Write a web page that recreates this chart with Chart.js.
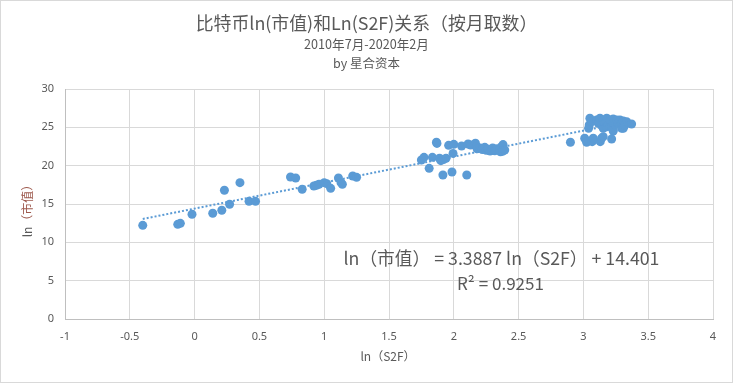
<!DOCTYPE html>
<html><head><meta charset="utf-8">
<script src="https://cdn.jsdelivr.net/npm/chart.js@4"></script>
<style>html,body{margin:0;padding:0;background:#fff;overflow:hidden}</style>
</head><body>
<canvas id="c" width="733" height="383" style="display:block;width:733px;height:383px"></canvas>
<script>
const TITLE = '比特币ln(市值)和Ln(S2F)关系（按月取数）';
const SUBTITLE1 = '2010年7月-2020年2月';
const SUBTITLE2 = 'by 星合资本';
const X_TITLE = 'ln（S2F）';
const Y_TITLE_A = 'ln';
const Y_TITLE_B = '（市值）';
const EQUATION = 'ln（市值） = 3.3887 ln（S2F） + 14.401';
const R2_TEXT = 'R² = 0.9251';
const xTicks = [-1, -0.5, 0, 0.5, 1, 1.5, 2, 2.5, 3, 3.5, 4];
const yTicks = [0, 5, 10, 15, 20, 25, 30];
const SLOPE = 3.3887, INTERCEPT = 14.401;

const lnS2F = [
  -0.40,-0.13,-0.11,-0.02,0.14,0.21,0.23,0.27,0.35,0.42,0.47,0.74,0.78,0.83,0.92,0.94,0.96,1.00,1.02,1.05,1.11,1.13,1.14,1.22,1.25,
  1.75,1.77,1.81,1.835,1.866,1.87,1.89,1.90,1.916,1.92,1.94,1.96,1.986,1.994,2.00,2.06,2.10,2.11,2.13,2.167,2.175,2.18,2.20,2.213,2.22,2.239,2.25,2.264,2.28,2.29,2.30,2.316,2.32,2.334,2.355,2.36,2.368,2.376,2.38,2.393,
  2.90,3.01,3.025,3.04,3.045,3.05,3.063,3.068,3.076,3.102,3.115,3.128,3.13,3.14,3.141,3.153,3.153,3.153,3.166,3.18,3.18,3.192,3.205,3.218,3.218,3.23,3.23,3.23,3.243,3.257,3.269,3.282,3.295,3.295,3.308,3.308,3.321,3.334,3.372
];
const lnCap = [
  12.22,12.35,12.48,13.66,13.79,14.18,16.79,14.96,17.78,15.35,15.35,18.52,18.39,16.92,17.35,17.44,17.57,17.78,17.65,17.04,18.39,17.78,17.57,18.65,18.48,
  20.74,21.09,19.65,21.09,23.05,22.90,20.96,20.65,18.78,20.80,20.96,22.65,19.17,21.60,22.78,22.56,18.78,22.83,22.70,22.92,22.48,22.20,22.30,22.26,22.10,22.39,22.00,22.13,21.90,22.04,22.30,21.95,22.10,22.22,22.04,21.80,22.48,21.87,22.75,22.04,
  23.05,23.57,23.05,24.87,25.30,26.18,25.74,23.13,23.57,25.96,25.52,26.18,23.13,23.57,25.30,23.78,25.96,24.87,25.52,26.18,25.08,25.30,25.96,23.48,25.08,24.52,26.09,24.65,25.39,25.96,25.52,25.96,24.87,25.52,25.83,24.87,25.30,25.74,25.43
];

const TEXT = '#595959';
const BLUE = '#5B9BD5';
const CJK = '"Noto Sans CJK SC", "Noto Sans", sans-serif';

const points = lnS2F.map((x, i) => ({x: x, y: lnCap[i]}));
const xMin = Math.min(...lnS2F), xMax = Math.max(...lnS2F);
const trend = [xMin, xMax].map(x => ({x: x, y: SLOPE * x + INTERCEPT}));

function fitSize(ctx, text, family, target) {
  ctx.font = '20px ' + family;
  return 20 * target / ctx.measureText(text).width;
}

const decor = {
  id: 'decor',
  beforeDraw(chart) {
    const ctx = chart.ctx;
    ctx.save();
    ctx.fillStyle = '#fff';
    ctx.fillRect(0, 0, chart.width, chart.height);
    ctx.restore();
  },
  afterDraw(chart) {
    const ctx = chart.ctx;
    ctx.save();
    ctx.fillStyle = TEXT;
    ctx.textAlign = 'center';
    ctx.textBaseline = 'middle';
    let s = fitSize(ctx, TITLE, CJK, 342);
    ctx.font = s + 'px ' + CJK;
    ctx.fillText(TITLE, 366.5, 23);
    s = fitSize(ctx, SUBTITLE1, CJK, 125);
    ctx.font = s + 'px ' + CJK;
    ctx.fillText(SUBTITLE1, 366.5, 44.5);
    s = fitSize(ctx, SUBTITLE2, CJK, 67);
    ctx.font = s + 'px ' + CJK;
    ctx.fillText(SUBTITLE2, 366.5, 63);

    // axis titles
    ctx.font = '12px ' + CJK;
    ctx.fillText(X_TITLE, 388, 356);
    ctx.save();
    ctx.translate(27, 208);
    ctx.rotate(-Math.PI / 2);
    const wa = ctx.measureText(Y_TITLE_A).width;
    const wb = ctx.measureText(Y_TITLE_B).width;
    let x0 = -(wa + wb) / 2;
    ctx.textAlign = 'left';
    ctx.fillStyle = TEXT;
    ctx.fillText(Y_TITLE_A, x0, 0);
    ctx.fillStyle = '#9E5A4E';
    ctx.fillText(Y_TITLE_B, x0 + wa, 0);
    ctx.restore();

    // equation
    ctx.fillStyle = TEXT;
    s = fitSize(ctx, EQUATION, CJK, 316);
    ctx.font = s + 'px ' + CJK;
    ctx.fillText(EQUATION, 501.5, 258.5);
    s = fitSize(ctx, R2_TEXT, CJK, 87);
    ctx.font = s + 'px ' + CJK;
    ctx.fillText(R2_TEXT, 500.5, 283.5);

    // outer border
    ctx.strokeStyle = '#D9D9D9';
    ctx.lineWidth = 1;
    ctx.strokeRect(0.5, 0.5, chart.width - 1, chart.height - 1);
    ctx.restore();
  }
};

new Chart(document.getElementById('c'), {
  type: 'scatter',
  data: {
    datasets: [
      {
        data: trend, showLine: true, pointRadius: 0, borderColor: BLUE,
        borderWidth: 2, borderDash: [2, 2], fill: false
      },
      {
        data: points, pointRadius: 4.5, backgroundColor: BLUE, borderWidth: 0,
        pointHoverRadius: 4.5
      }
    ]
  },
  options: {
    responsive: false,
    animation: false,
    devicePixelRatio: 1,
    layout: {padding: {top: 89, right: 20, left: 0, bottom: 0}},
    plugins: {legend: {display: false}, tooltip: {enabled: false}, title: {display: false}},
    scales: {
      x: {
        type: 'linear', min: -1, max: 4,
        afterBuildTicks: sc => { sc.ticks = xTicks.map(v => ({value: v})); },
        afterFit: sc => { sc.height = 64; },
        grid: {color: '#D9D9D9', drawTicks: false, lineWidth: 1},
        border: {color: '#BFBFBF'},
        ticks: {color: TEXT, font: {family: '"Noto Sans", sans-serif', size: 11}, padding: 11,
                maxRotation: 0, autoSkip: false, callback: v => String(v)}
      },
      y: {
        type: 'linear', min: 0, max: 30,
        afterBuildTicks: sc => { sc.ticks = yTicks.map(v => ({value: v})); },
        afterFit: sc => { sc.width = 65; },
        grid: {color: '#D9D9D9', drawTicks: false, lineWidth: 1},
        border: {color: '#BFBFBF'},
        ticks: {color: TEXT, font: {family: '"Noto Sans", sans-serif', size: 11}, padding: 11,
                autoSkip: false, callback: v => String(v)}
      }
    }
  },
  plugins: [decor]
});
</script>
</body></html>
